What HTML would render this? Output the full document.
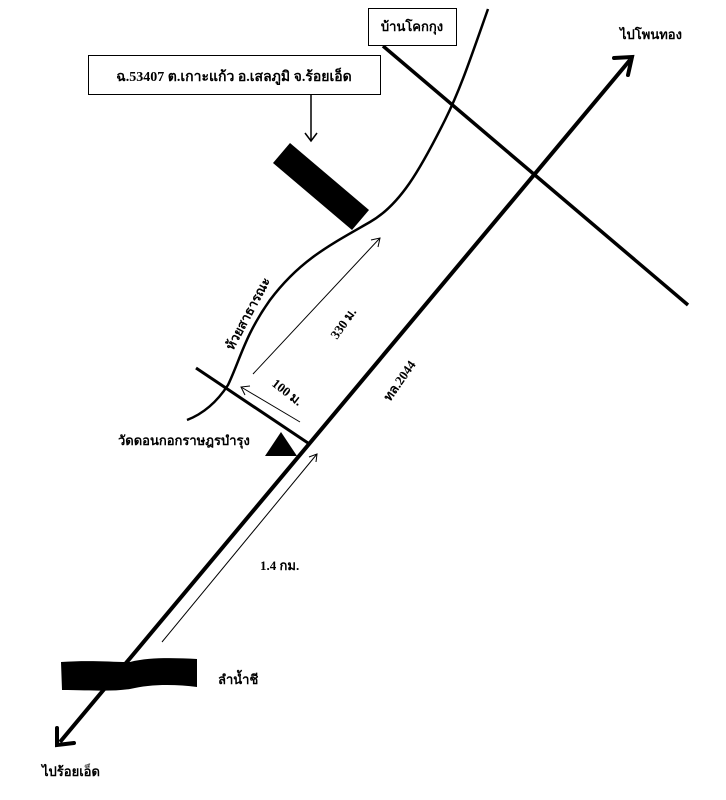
<!DOCTYPE html>
<html><head><meta charset="utf-8"><style>
html,body{margin:0;padding:0;background:#fff;}
svg{display:block;}
text{font-family:"Liberation Serif","Noto Serif CJK SC","Noto Sans CJK SC",serif;font-weight:bold;fill:#000;}
</style></head><body>
<svg width="726" height="800" viewBox="0 0 726 800" xmlns="http://www.w3.org/2000/svg">
<rect width="726" height="800" fill="#fff"/>
<!-- main road -->
<line x1="60" y1="742" x2="630" y2="60" stroke="#000" stroke-width="4"/>
<polyline points="614,58 632,57 628,75" fill="none" stroke="#000" stroke-width="4" stroke-linecap="round"/>
<polyline points="57,728 57,745 74,743" fill="none" stroke="#000" stroke-width="4" stroke-linecap="round"/>
<!-- cross road -->
<line x1="383" y1="46" x2="688" y2="305" stroke="#000" stroke-width="3.5"/>
<!-- creek -->
<path d="M488,9 C470,60 460,90 445,120 C420,170 400,205 370,222 C330,245 300,260 270,300 C245,335 240,360 228,385 C215,405 200,415 187,420" fill="none" stroke="#000" stroke-width="2.5"/>
<!-- small road -->
<line x1="196" y1="368" x2="308" y2="443" stroke="#000" stroke-width="3"/>
<!-- triangle -->
<polygon points="265,456 297,456 281,432" fill="#000"/>
<!-- black rect -->
<polygon points="273,163 290,143 369,210 352,230" fill="#000"/>
<!-- lam nam chi blob -->
<path d="M61,662 C90,660 110,662 130,662 C150,657 175,658 197,659 L197,687 C175,684 150,684 130,689 C110,692 90,690 62,690 Z" fill="#000"/>
<!-- label boxes -->
<rect x="88.5" y="55.5" width="292" height="39" fill="#fff" stroke="#000" stroke-width="1"/>
<text x="234" y="81" font-size="14" text-anchor="middle">ฉ.53407 ต.เกาะแก้ว อ.เสลภูมิ จ.ร้อยเอ็ด</text>
<line x1="311" y1="95" x2="311" y2="141" stroke="#000" stroke-width="1.5"/>
<polyline points="305,133 311,141 317,133" fill="none" stroke="#000" stroke-width="1.5"/>
<rect x="368.5" y="8.5" width="88" height="37" fill="#fff" stroke="#000" stroke-width="1"/>
<text x="412" y="31" font-size="13" text-anchor="middle">บ้านโคกกุง</text>
<!-- thin arrows -->
<line x1="253" y1="374" x2="380" y2="238" stroke="#000" stroke-width="1"/>
<polyline points="371,240 380,238 378,247" fill="none" stroke="#000" stroke-width="1"/>
<line x1="300" y1="422" x2="241" y2="387" stroke="#000" stroke-width="1"/>
<polyline points="245,395 241,387 250,386" fill="none" stroke="#000" stroke-width="1"/>
<line x1="162" y1="642" x2="317" y2="454" stroke="#000" stroke-width="1"/>
<polyline points="309,457 317,454 316,462" fill="none" stroke="#000" stroke-width="1"/>
<!-- texts -->
<text x="620" y="39" font-size="13">ไปโพนทอง</text>
<text x="118" y="445" font-size="13">วัดดอนกอกราษฎรบำรุง</text>
<text x="260" y="570" font-size="13">1.4 กม.</text>
<text x="218" y="684" font-size="13">ลำน้ำชี</text>
<text x="42" y="776" font-size="13">ไปร้อยเอ็ด</text>
<text font-size="13" transform="translate(390,402) rotate(-55)">ทล.2044</text>
<text font-size="13" transform="translate(337,340) rotate(-55)">330 ม.</text>
<text font-size="13" transform="translate(271,385) rotate(38)">100 ม.</text>
<text font-size="13" transform="translate(233,351) rotate(-62)">ห้วยสาธารณะ</text>
</svg>
</body></html>
